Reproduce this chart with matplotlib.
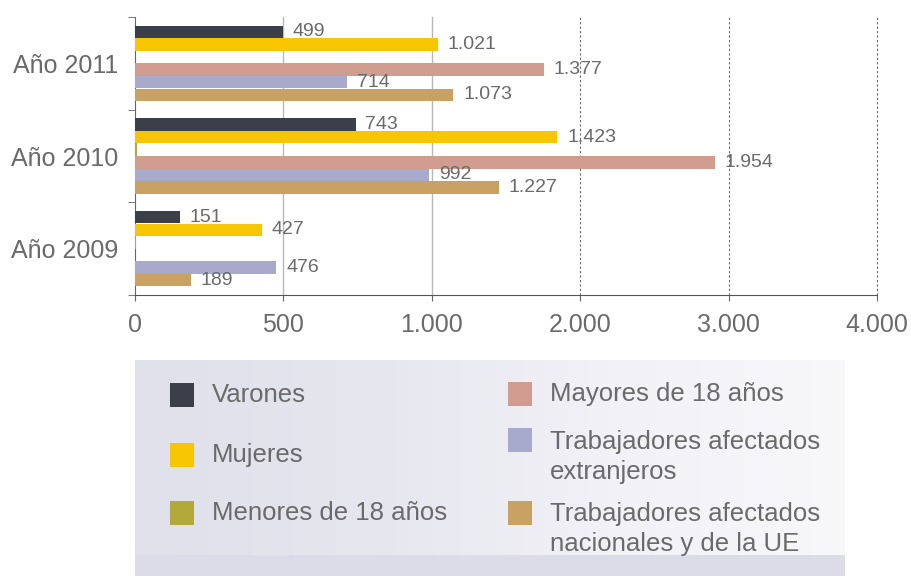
import matplotlib
matplotlib.use("Agg")
import matplotlib.pyplot as plt
import numpy as np
from matplotlib.patches import Rectangle
from matplotlib.colors import LinearSegmentedColormap

# ---- data ----
categories = ["Año 2009", "Año 2010", "Año 2011"]
series_names = ["Varones", "Mujeres", "Menores de 18 años",
                "Mayores de 18 años", "Trabajadores afectados\nextranjeros",
                "Trabajadores afectados\nnacionales y de la UE"]
varones = [151, 743, 499]
mujeres = [427, 1423, 1021]
menores = [4, 6, 0]
mayores = [0, 1954, 1377]
extranjeros = [476, 992, 714]
nacionales = [189, 1227, 1073]
show_labels = [True, True, False, True, True, True]
x_ticks = [0, 500, 1000, 1500, 2000, 2500]
x_tick_labels = ["0", "500", "1.000", "2.000", "3.000", "4.000"]

series = [varones, mujeres, menores, mayores, extranjeros, nacionales]
colors = ["#3b3f4a", "#f7c600", "#b3a83a", "#cf9c8f", "#a8aacb", "#c8a163"]
txt = "#6a6a6a"
FONT = "Liberation Sans"

fig = plt.figure(figsize=(9.12, 5.76), dpi=100)
ax = fig.add_axes([135/912, 1-295/576, (877-135)/912, (295-17)/576])

step = 0.136
bh = 0.134
y = np.arange(len(categories))
for j, (vals, c) in enumerate(zip(series, colors)):
    off = (2.5 - j) * step
    bars = ax.barh(y + off, vals, height=bh, color=c, edgecolor="none", zorder=3)
    if show_labels[j]:
        for b, v in zip(bars, vals):
            if v > 0:
                s = f"{v:,}".replace(",", ".")
                ax.text(b.get_width() + 33, b.get_y() + bh/2, s, va="center", ha="left",
                        fontsize=14, color=txt, family=FONT, zorder=4)

ax.set_xlim(0, 2500)
ax.set_ylim(-0.5, 2.5)
ax.set_xticks(x_ticks)
ax.set_xticklabels(x_tick_labels, family=FONT, fontsize=18, color=txt)
ax.set_yticks(y)
ax.set_yticklabels(categories, family=FONT, fontsize=18, color=txt)
ax.set_yticks([-0.5, 0.5, 1.5, 2.5], minor=True)
ax.tick_params(axis="y", which="major", length=0, pad=12)
ax.tick_params(axis="y", which="minor", length=5, color="#666", direction="out")
ax.tick_params(axis="x", length=4, color="#666", pad=9)
for s in ["top", "right"]:
    ax.spines[s].set_visible(False)
ax.spines["left"].set_color("#666")
ax.spines["bottom"].set_color("#555")
ax.spines["bottom"].set_linestyle((0, (2, 1)))
for xv in x_ticks[1:]:
    if xv <= 1000:
        ax.axvline(xv, color="#b8b8b8", lw=1, zorder=1, clip_on=False)
    else:
        ax.axvline(xv, color="#666", lw=0.8, ls=(0, (2, 2)), zorder=1, clip_on=False)

# ---- legend area ----
L, R, T, B = 135, 845, 360, 576
lax = fig.add_axes([L/912, 0, (R-L)/912, (B-T)/576])
lax.set_xlim(L, R); lax.set_ylim(B, T)
lax.axis("off")
grad = np.linspace(0, 1, 256)[None, :]
cmap = LinearSegmentedColormap.from_list("bg", ["#e0e0ea", "#e6e6ef", "#f1f1f6", "#f8f8fb"])
lax.imshow(grad, extent=[L, R, B, T], aspect="auto", cmap=cmap, zorder=0)
lax.add_patch(Rectangle((L, 555), R-L, B-555, color="#dcdce8", zorder=1, lw=0))

# (square x, square centre y, text x, text first-line centre y)
leg_pos = [(170, 395, 212, 395), (170, 455, 212, 455), (170, 513, 212, 513),
           (508, 394, 550, 394), (508, 440, 550, 443), (508, 513, 550, 515)]
sq = 24
for (sx, sy, tx, ty), name, c in zip(leg_pos, series_names, colors):
    lax.add_patch(Rectangle((sx, sy - sq/2), sq, sq, color=c, zorder=2, lw=0))
    if "\n" in name:
        lax.text(tx, ty - 13, name, va="top", ha="left",
                 fontsize=18.5, color=txt, family=FONT, linespacing=1.32, zorder=3)
    else:
        lax.text(tx, ty, name, va="center", ha="left",
                 fontsize=18.5, color=txt, family=FONT, zorder=3)

fig.savefig("out.png", dpi=100)
